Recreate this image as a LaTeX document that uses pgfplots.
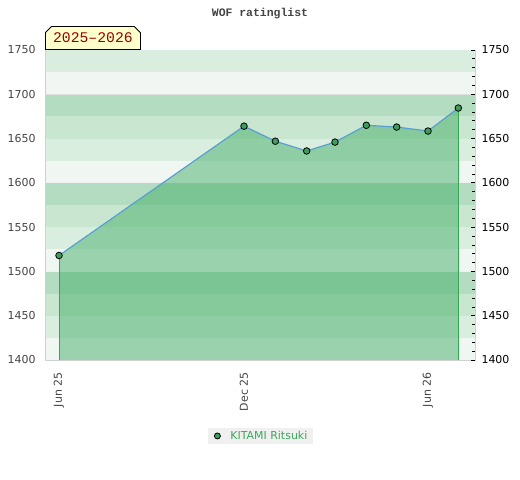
\documentclass[border=0pt]{standalone}
\usepackage{fontspec}
\setmainfont{DejaVu Sans}
\newfontfamily\monofont{Liberation Mono}
\usepackage{pgfplots}
\pgfplotsset{compat=1.18}
\usetikzlibrary{shapes.misc}
\definecolor{bVL}{HTML}{F0F7F2}
\definecolor{bL}{HTML}{DAEEE0}
\definecolor{bM}{HTML}{C8E6D0}
\definecolor{bD}{HTML}{B3DCC1}
\definecolor{areafill}{RGB}{61,171,99}
\definecolor{linecol}{HTML}{5A9FD4}
\definecolor{markcol}{HTML}{3C9E5C}
\definecolor{edgecol}{HTML}{33A852}
\definecolor{legtext}{HTML}{3AA85A}
\definecolor{labgray}{HTML}{444444}
\definecolor{yearred}{HTML}{990000}
\definecolor{yearbg}{HTML}{FFFFCC}
\pgfplotsset{
  band/.style={draw=none, fill=#1, forget plot},
}
\begin{document}
\begin{tikzpicture}[x=1bp,y=1bp]
\useasboundingbox (0,0) rectangle (520,480);
\node[font=\monofont\bfseries\fontsize{11.5}{13}\selectfont, text=labgray] at (260,466.5) {WOF ratinglist};
\begin{axis}[
  at={(45bp,120bp)}, anchor=south west, scale only axis,
  width=430bp, height=310bp,
  xmin=-13.85, xmax=411.5, ymin=1400, ymax=1750,
  axis line style={draw=black!18},
  ytick={1400,1450,...,1750},
  major tick length=0pt,
  xtick={0,183,365}, xticklabels={Jun 25,Dec 25,Jun 26},
  xticklabel style={rotate=90, anchor=east, text=labgray, font=\fontsize{11}{12}\selectfont, xshift=-9bp},
  yticklabel style={text=labgray, font=\fontsize{11}{12}\selectfont, xshift=-6bp},
  /pgf/number format/assume math mode=true,
  /pgf/number format/1000 sep={},
  legend style={at={(0.502,-0.245)}, anchor=center, fill=black!6, draw=none,
    font=\fontsize{11}{12}\selectfont, text=legtext, inner xsep=4bp, inner ysep=1.5bp},
  legend cell align=left,
]
\addplot[band=bVL] coordinates {(-20,1400) (420,1400) (420,1425) (-20,1425)} -- cycle;
\addplot[band=bL]  coordinates {(-20,1425) (420,1425) (420,1450) (-20,1450)} -- cycle;
\addplot[band=bM]  coordinates {(-20,1450) (420,1450) (420,1475) (-20,1475)} -- cycle;
\addplot[band=bD]  coordinates {(-20,1475) (420,1475) (420,1500) (-20,1500)} -- cycle;
\addplot[band=bVL] coordinates {(-20,1500) (420,1500) (420,1525) (-20,1525)} -- cycle;
\addplot[band=bL]  coordinates {(-20,1525) (420,1525) (420,1550) (-20,1550)} -- cycle;
\addplot[band=bM]  coordinates {(-20,1550) (420,1550) (420,1575) (-20,1575)} -- cycle;
\addplot[band=bD]  coordinates {(-20,1575) (420,1575) (420,1600) (-20,1600)} -- cycle;
\addplot[band=bVL] coordinates {(-20,1600) (420,1600) (420,1625) (-20,1625)} -- cycle;
\addplot[band=bL]  coordinates {(-20,1625) (420,1625) (420,1650) (-20,1650)} -- cycle;
\addplot[band=bM]  coordinates {(-20,1650) (420,1650) (420,1675) (-20,1675)} -- cycle;
\addplot[band=bD]  coordinates {(-20,1675) (420,1675) (420,1700) (-20,1700)} -- cycle;
\addplot[band=bVL] coordinates {(-20,1700) (420,1700) (420,1725) (-20,1725)} -- cycle;
\addplot[band=bL]  coordinates {(-20,1725) (420,1725) (420,1750) (-20,1750)} -- cycle;
\addplot[draw=black!12, line width=0.8bp, forget plot] coordinates {(-20,1700) (420,1700)};
\addplot[draw=black!6, line width=0.8bp, forget plot] coordinates {(-20,1600) (420,1600)};
\addplot[draw=black!6, line width=0.8bp, forget plot] coordinates {(-20,1500) (420,1500)};
% area
\addplot[draw=none, fill=areafill, fill opacity=0.475, forget plot] coordinates {
 (0,1400) (0,1518) (183,1664) (214,1647) (245,1636) (273,1646) (304,1665) (334,1663) (365,1658.5) (395,1684.5) (395,1400)} -- cycle;
\addplot[draw=edgecol, line width=1bp, forget plot] coordinates {(0,1400) (0,1518)};
\addplot[draw=edgecol, line width=1bp, forget plot] coordinates {(395,1400) (395,1684.5)};
\addplot[draw=linecol, line width=1.2bp, mark=*, mark size=3.3bp,
  mark options={fill=markcol, draw=black, line width=0.8bp}, forget plot] coordinates {
 (0,1518) (183,1664) (214,1647) (245,1636) (273,1646) (304,1665) (334,1663) (365,1658.5) (395,1684.5)};
\addlegendimage{legend image code/.code={
  \path[draw=none] (0bp,0bp) -- (16bp,0bp);
  \draw[fill=markcol, draw=black, line width=0.8bp] (5bp,0bp) circle (3bp);}}
\addlegendentry{KITAMI Ritsuki}
\end{axis}
\begin{axis}[
  at={(45bp,120bp)}, anchor=south west, scale only axis,
  width=430bp, height=310bp,
  xmin=-13.85, xmax=411.5, ymin=1400, ymax=1750,
  hide x axis,
  axis line style={draw=black!18},
  ytick pos=right, yticklabel pos=right,
  ytick={1400,1450,...,1750},
  minor ytick={1410,1420,...,1740},
  tick align=inside,
  major tick length=4bp, minor tick length=3bp,
  tick style={black, line width=0.7bp},
  yticklabel style={text=black, font=\fontsize{11}{12}\selectfont, xshift=3bp},
  /pgf/number format/assume math mode=true,
  /pgf/number format/1000 sep={},
]
\addplot[draw=none, forget plot] coordinates {(0,1400) (1,1750)};
\end{axis}
\node[chamfered rectangle, chamfered rectangle corners={north west,north east},
  chamfered rectangle xsep=3bp, chamfered rectangle ysep=3bp,
  draw=black, line width=0.8bp, fill=yearbg, minimum width=95bp, minimum height=23bp,
  anchor=south west, inner sep=0pt, text=yearred,
  font=\monofont\fontsize{14.8}{16}\selectfont] at (45,430) {2025–2026};
\end{tikzpicture}
\end{document}
